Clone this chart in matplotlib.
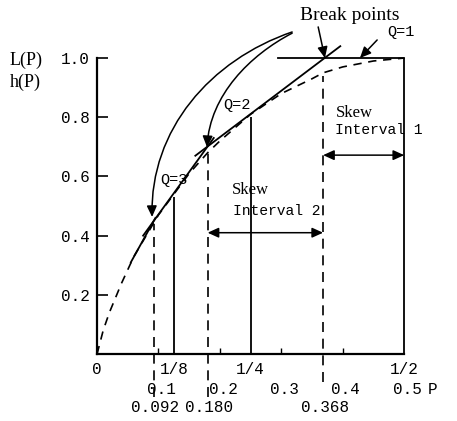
import matplotlib.pyplot as plt
from matplotlib.patches import FancyArrowPatch
from matplotlib.path import Path

plt.rcParams['font.family'] = ['Liberation Mono', 'DejaVu Sans Mono']

# dashed curve h(P)
p_vals = [0, 0.01, 0.02, 0.04, 0.06, 0.08, 0.10, 0.125, 0.15, 0.18, 0.20,
          0.25, 0.30, 0.35, 0.368, 0.40, 0.45, 0.50]
h_vals = [0, 0.08, 0.14, 0.24, 0.33, 0.40, 0.47, 0.54, 0.61, 0.68, 0.72,
          0.81, 0.88, 0.93, 0.95, 0.97, 0.99, 1.0]

# solid pieces of L(P): start point -> end point
seg_p0 = [0.055, 0.075, 0.16, 0.295]
seg_l0 = [0.31, 0.40, 0.67, 1.0]
seg_p1 = [0.095, 0.19, 0.396, 0.5]
seg_l1 = [0.46, 0.73, 1.04, 1.0]

# solid verticals at the sample points
sample_p = [0.125, 0.25, 0.5]
sample_top = [0.53, 0.80, 1.0]

# dashed verticals at the break points
break_p = [0.092, 0.180, 0.368]
break_top = [0.44, 0.68, 0.94]
break_bottom = [-0.145, -0.145, -0.095]
break_labels = ['0.092', '0.180', '0.368']

frac_ticks = [0, 0.125, 0.25, 0.5]
frac_labels = ['0', '1/8', '1/4', '1/2']
dec_ticks = [0.1, 0.2, 0.3, 0.4, 0.5]
dec_labels = ['0.1', '0.2', '0.3', '0.4', '0.5']
y_ticks = [0.2, 0.4, 0.6, 0.8, 1.0]
y_labels = ['0.2', '0.4', '0.6', '0.8', '1.0']

fig = plt.figure(figsize=(4.57, 4.21), dpi=100)
ax = fig.add_axes([0, 0, 1, 1])
ax.set_xlim(-0.158, 0.586)
ax.set_ylim(-0.226, 1.196)

# axes crossing at the origin
for side in ['top', 'right']:
    ax.spines[side].set_visible(False)
ax.spines['left'].set_position(('data', 0))
ax.spines['bottom'].set_position(('data', 0))
ax.spines['left'].set_bounds(0, 1.0)
ax.spines['bottom'].set_bounds(0, 0.5)
ax.spines['left'].set_linewidth(1.6)
ax.spines['bottom'].set_linewidth(1.6)

ax.set_yticks(y_ticks)
ax.set_yticklabels(y_labels)
ax.tick_params(axis='y', direction='in', length=8, width=1.2, pad=5, labelsize=11.5)
ax.set_xticks(frac_ticks)
ax.set_xticklabels(frac_labels)
ax.set_xticks(dec_ticks[:-1], minor=True)
ax.tick_params(axis='x', which='major', length=0, pad=6, labelsize=11.5)
ax.tick_params(axis='x', which='minor', direction='in', length=4, width=1.0)

# curves
ax.plot(p_vals, h_vals, color='k', lw=1.2, ls=(0, (5, 4)))
for a, b, c, d in zip(seg_p0, seg_l0, seg_p1, seg_l1):
    ax.plot([a, c], [b, d], color='k', lw=1.3)

ax.vlines(sample_p, 0, sample_top, color='k', lw=1.3)
ax.vlines(break_p, break_bottom, break_top, color='k', lw=1.2, linestyles=(0, (6, 4)))

# tick label rows under the axis
for x, lab in zip(dec_ticks, dec_labels):
    ax.text(x + 0.005, -0.118, lab, ha='center', va='center', fontsize=11.5)
ax.text(0.547, -0.118, 'P', ha='center', va='center', fontsize=11.5)
for x, lab in zip(break_p, break_labels):
    ax.text(x + 0.003, -0.182, lab, ha='center', va='center', fontsize=11.5)

# axis name
ax.text(-0.142, 0.993, 'L(P)', ha='left', va='center', fontsize=13, family='Liberation Serif')
ax.text(-0.142, 0.919, 'h(P)', ha='left', va='center', fontsize=13, family='Liberation Serif')

# curved arrows for Q=3 and Q=2
head = '-|>,head_length=0.55,head_width=0.25'
arc_q3 = Path([(0.3176, 1.088), (0.184, 0.993), (0.0863, 0.757), (0.0896, 0.463)],
              [Path.MOVETO, Path.CURVE4, Path.CURVE4, Path.CURVE4])
arc_q2 = Path([(0.3176, 1.084), (0.249, 1.010), (0.184, 0.875), (0.179, 0.699)],
              [Path.MOVETO, Path.CURVE4, Path.CURVE4, Path.CURVE4])
for arc in [arc_q3, arc_q2]:
    ax.add_patch(FancyArrowPatch(path=arc, arrowstyle=head, mutation_scale=12,
                                 color='k', lw=1.1))

arrow = dict(arrowstyle=head, color='k', lw=1.1, mutation_scale=12, shrinkA=0, shrinkB=0)
ax.annotate('', xy=(0.371, 1.0), xytext=(0.360, 1.105), arrowprops=arrow)
ax.annotate('', xy=(0.428, 1.0), xytext=(0.456, 1.061), arrowprops=arrow)

both = dict(arrowstyle='<|-|>,head_length=0.55,head_width=0.25', color='k', lw=1.1,
            mutation_scale=12, shrinkA=0, shrinkB=0)
ax.annotate('', xy=(0.368, 0.672), xytext=(0.5, 0.672), arrowprops=both)
ax.annotate('', xy=(0.180, 0.41), xytext=(0.368, 0.41), arrowprops=both)

# labels
ax.text(0.412, 1.145, 'Break points', ha='center', va='center', fontsize=14,
        family='Liberation Serif')
ax.text(0.472, 1.088, 'Q=1', ha='left', va='center', fontsize=11)
ax.text(0.205, 0.841, 'Q=2', ha='left', va='center', fontsize=11)
ax.text(0.1026, 0.588, 'Q=3', ha='left', va='center', fontsize=11)
ax.text(0.388, 0.814, 'Skew', ha='left', va='center', fontsize=12, family='Liberation Serif')
ax.text(0.388, 0.757, 'Interval 1', ha='left', va='center', fontsize=10.5)
ax.text(0.220, 0.554, 'Skew', ha='left', va='center', fontsize=12, family='Liberation Serif')
ax.text(0.222, 0.483, 'Interval 2', ha='left', va='center', fontsize=10.5)

plt.savefig('out.png', dpi=100)
